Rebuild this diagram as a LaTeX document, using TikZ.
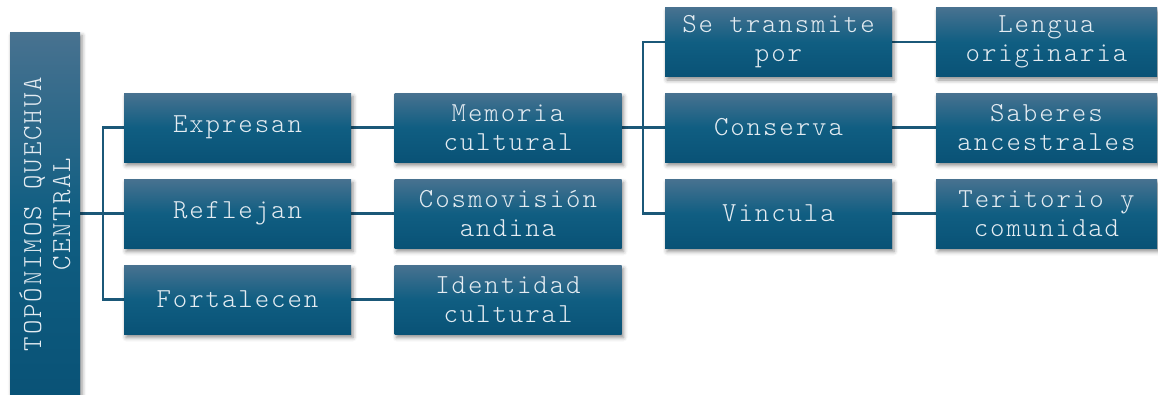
\documentclass[tikz,border=0pt]{standalone}
\usepackage{fontspec}
\setmonofont[LetterSpace=7]{lmmonolt10-regular.otf}
\usetikzlibrary{shadows.blur,backgrounds}
\definecolor{ctop}{RGB}{72,114,144}
\definecolor{cmid}{RGB}{16,94,130}
\definecolor{cbot}{RGB}{9,82,118}
\definecolor{ctext}{RGB}{228,236,242}
\definecolor{cline}{RGB}{27,88,120}
\begin{document}
\begin{tikzpicture}[x=1pt,y=-1pt,
  boxfont/.style={font=\ttfamily\fontsize{27.5}{29}\selectfont},
  box/.style={rectangle, inner sep=0pt, minimum width=227pt, minimum height=69pt,
    top color=ctop, bottom color=cbot, middle color=cmid,
    blur shadow={shadow xshift=2pt, shadow yshift=-3.5pt, shadow blur radius=4pt, shadow opacity=45},
    text=ctext, boxfont, align=center},
  conn/.style={draw=cline, line width=2.2pt}]
\useasboundingbox (0,0) rectangle (1158,394);
% root
\node[box, minimum width=70pt, minimum height=370pt] (rootbox) at (45,217) {};
\node[text=ctext, boxfont, rotate=90, align=center, inner sep=0pt] (roottext) at (45,214) {TOPÓNIMOS QUECHUA\\CENTRAL};
% level 1
\node[box] (e1) at (237.5,127.5) {Expresan};
\node[box] (e2) at (237.5,213.5) {Reflejan};
\node[box] (e3) at (237.5,299.5) {Fortalecen};
% level 2
\node[box] (m1) at (508,127.5) {Memoria\\cultural};
\node[box] (m2) at (508,213.5) {Cosmovisión\\andina};
\node[box] (m3) at (508,299.5) {Identidad\\cultural};
% level 3
\node[box] (t1) at (778.5,42) {Se transmite\\por};
\node[box] (t2) at (778.5,127.5) {Conserva};
\node[box] (t3) at (778.5,213.5) {Vincula};
% level 4
\node[box, minimum width=221pt] (f1) at (1046.5,42) {Lengua\\originaria};
\node[box, minimum width=221pt] (f2) at (1046.5,127.5) {Saberes\\ancestrales};
\node[box, minimum width=221pt] (f3) at (1046.5,213.5) {Teritorio y\\comunidad};
% junctions
\coordinate (j1) at (103,213.5);
\coordinate (j2) at (643,127.5);
\begin{scope}[on background layer]
\draw[conn] (rootbox.east |- j1) -- (j1);
\draw[conn] (e1.west) -| (j1);
\draw[conn] (e3.west) -| (j1);
\draw[conn] (j1) -- (e2.west);
\draw[conn] (e1.east) -- (m1.west);
\draw[conn] (e2.east) -- (m2.west);
\draw[conn] (e3.east) -- (m3.west);
\draw[conn] (m1.east) -- (j2);
\draw[conn] (t1.west) -| (j2);
\draw[conn] (t3.west) -| (j2);
\draw[conn] (j2) -- (t2.west);
\draw[conn] (t1.east) -- (f1.west);
\draw[conn] (t2.east) -- (f2.west);
\draw[conn] (t3.east) -- (f3.west);
\end{scope}
\end{tikzpicture}
\end{document}
